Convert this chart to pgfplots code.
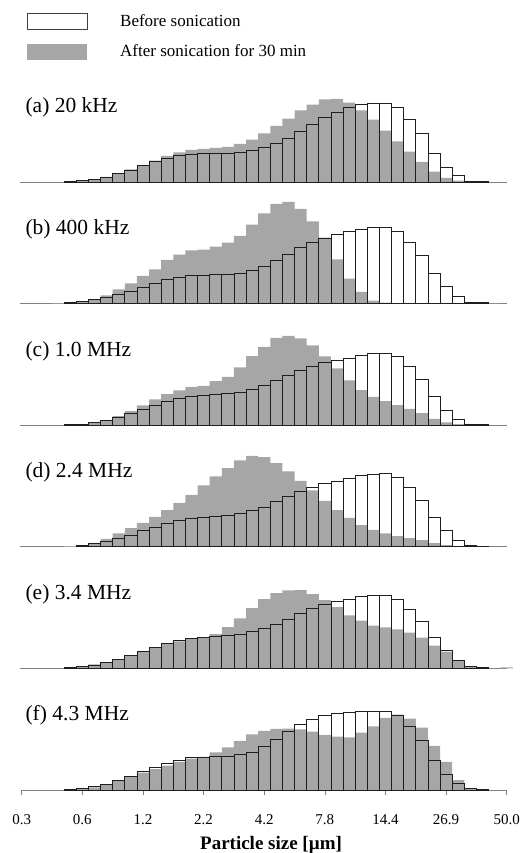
\documentclass[border=0pt]{standalone}
\usepackage{fontspec}
\setmainfont{Liberation Serif}
\usepackage{pgfplots}
\usepackage{pgfplotstable}
\pgfplotsset{compat=1.18}
\definecolor{barGray}{RGB}{166,166,166}
\definecolor{edgeDark}{RGB}{30,30,30}
\definecolor{axisGray}{RGB}{128,128,128}

% bin index k (0 = 0.3 um ... 40 = 50.0 um), before / after sonication
\pgfplotstableread{
k before after
4 0.7 0.7
5 1.3 1.0
6 2.7 2.7
7 5.0 5.0
8 8.3 8.7
9 12.0 12.7
10 16.3 16.7
11 20.7 21.3
12 23.7 26.0
13 27.0 29.7
14 28.0 32.0
15 28.3 33.0
16 28.7 34.0
17 28.7 35.0
18 29.7 38.0
19 31.7 42.3
20 34.7 48.7
21 38.7 56.0
22 44.0 63.3
23 50.3 71.7
24 57.3 77.3
25 64.7 82.7
26 69.7 83.0
27 74.3 79.3
28 77.7 71.7
29 78.7 62.3
30 78.7 51.3
31 74.3 40.7
32 62.7 30.3
33 48.7 20.0
34 29.0 10.3
35 14.7 4.0
36 6.3 1.3
37 1.0 0.7
38 0.3 0.3
}\dataA

\pgfplotstableread{
k before after
3 nan 0.5
4 1.0 1.0
5 2.0 2.3
6 3.7 4.3
7 5.7 8.3
8 8.7 14.3
9 12.0 20.3
10 15.7 27.7
11 20.0 34.3
12 23.7 43.7
13 26.0 49.0
14 28.0 53.3
15 28.3 54.0
16 28.7 57.0
17 28.7 61.0
18 30.3 67.7
19 33.0 79.0
20 37.0 90.3
21 43.0 99.7
22 49.0 101.7
23 55.7 94.7
24 61.0 82.3
25 65.3 66.0
26 68.7 44.3
27 71.7 25.0
28 74.3 11.7
29 75.7 3.0
30 75.7 1.0
31 72.3 0.3
32 61.0 nan
33 47.7 nan
34 29.7 nan
35 16.7 nan
36 7.0 nan
37 1.3 0.3
38 0.7 0.3
39 nan 0.3
}\dataB

\pgfplotstableread{
k before after
4 0.3 0.3
5 1.0 0.7
6 2.7 2.7
7 4.7 4.7
8 8.0 9.0
9 11.7 14.0
10 15.7 19.7
11 20.0 25.7
12 23.7 31.0
13 27.0 34.7
14 29.0 38.3
15 30.0 39.3
16 31.0 44.0
17 31.7 48.3
18 33.0 57.7
19 35.7 69.0
20 39.7 78.3
21 44.3 87.3
22 49.7 89.3
23 55.0 86.7
24 59.0 79.7
25 62.3 68.7
26 65.0 56.7
27 67.0 44.7
28 69.7 35.0
29 71.7 28.3
30 71.7 24.0
31 68.3 20.0
32 58.7 16.3
33 46.0 12.0
34 29.0 6.3
35 15.0 2.7
36 5.7 1.0
37 1.0 0.3
38 0.3 nan
}\dataC

\pgfplotstableread{
k before after
4 nan 0.7
5 1.3 1.7
6 3.0 4.0
7 5.0 8.0
8 8.0 13.3
9 11.7 18.7
10 16.0 24.0
11 19.7 30.0
12 23.0 36.7
13 26.3 44.0
14 28.7 52.0
15 29.7 61.3
16 30.3 70.3
17 31.0 78.7
18 33.3 86.3
19 36.0 91.0
20 39.7 89.7
21 45.0 83.7
22 50.0 75.3
23 55.3 66.0
24 59.3 56.3
25 63.0 46.0
26 65.7 36.7
27 68.0 29.0
28 71.0 21.7
29 72.7 17.0
30 73.3 13.3
31 69.7 10.7
32 59.3 8.7
33 46.7 6.7
34 29.7 3.7
35 16.3 1.7
36 6.7 0.7
37 1.3 1.0
38 0.3 0.7
}\dataD

\pgfplotstableread{
k before after
4 0.7 0.3
5 2.0 1.7
6 3.3 4.0
7 6.0 5.7
8 9.0 8.7
9 12.7 12.3
10 17.0 16.7
11 21.3 21.0
12 25.0 24.3
13 28.0 27.0
14 30.0 29.3
15 31.0 31.0
16 32.0 34.3
17 32.7 41.3
18 34.3 50.0
19 36.7 60.3
20 40.0 69.3
21 44.3 75.3
22 49.3 78.0
23 55.0 78.3
24 60.0 74.3
25 63.7 68.3
26 67.0 61.3
27 69.3 53.0
28 71.7 47.7
29 72.7 42.7
30 72.7 41.0
31 69.0 39.0
32 59.3 35.7
33 47.3 30.7
34 30.7 22.7
35 18.0 16.7
36 7.7 7.7
37 2.0 2.3
38 1.0 0.7
40 nan 1.0
}\dataE

\pgfplotstableread{
k before after
4 0.3 0.7
5 1.3 1.0
6 3.3 2.7
7 5.7 5.3
8 9.7 9.3
9 14.0 13.3
10 18.3 17.3
11 22.7 21.0
12 26.7 24.3
13 30.0 28.0
14 32.7 31.3
15 32.7 33.0
16 33.7 37.7
17 33.7 42.7
18 35.7 49.0
19 38.0 55.7
20 43.7 59.0
21 50.7 61.0
22 58.3 61.3
23 65.3 60.7
24 71.0 58.3
25 74.7 55.0
26 76.3 53.3
27 77.3 52.7
28 78.7 57.3
29 78.7 63.7
30 78.3 72.0
31 74.3 75.3
32 63.3 71.3
33 49.7 62.3
34 30.0 44.0
35 15.3 28.0
36 6.7 10.0
37 1.3 2.0
38 0.3 1.0
}\dataF

\pgfplotsset{
  panel/.style={
    at={(20.5pt,#1)}, anchor=south west,
    x=12.125pt, y=1pt,
    xmin=-0.1, xmax=40.05, ymin=0, ymax=110,
    enlargelimits=false,
    axis x line*=bottom, axis y line=none,
    axis line style={axisGray, line width=0.8pt},
    xtick=\empty, ytick=\empty,
    clip=false,
  },
  after bars/.style={ybar, bar width=1, bar shift=0pt, fill=barGray, draw=none},
  before bars/.style={ybar, bar width=1, bar shift=0pt, fill=none, draw=edgeDark, line width=0.8pt},
}
\newcommand\panellabel[1]{\node[anchor=base west, inner sep=0pt, font=\fontsize{21.5}{24}\selectfont] at (axis cs:0.3,69) {#1};}
\newcommand\panelbars[1]{%
  \addplot[after bars] table[x=k, y=after] {#1};
  \addplot[before bars] table[x=k, y=before] {#1};
}

\begin{document}
\begin{tikzpicture}
\useasboundingbox (0,0) rectangle (519pt,853pt);

% legend
\draw[edgeDark!85, line width=0.8pt, fill=white] (27pt,824pt) rectangle (87pt,840pt);
\fill[barGray] (27pt,793pt) rectangle (87pt,809pt);
\node[anchor=base west, inner sep=0pt, font=\fontsize{17}{20}\selectfont] at (120pt,826.3pt) {Before sonication};
\node[anchor=base west, inner sep=0pt, font=\fontsize{17}{20}\selectfont] at (120pt,796.3pt) {After sonication for 30 min};

\begin{axis}[panel=671pt]
  \panelbars{\dataA}
  \panellabel{(a) 20 kHz}
\end{axis}

\begin{axis}[panel=549.4pt]
  \panelbars{\dataB}
  \panellabel{(b) 400 kHz}
\end{axis}

\begin{axis}[panel=427.8pt]
  \panelbars{\dataC}
  \panellabel{(c) 1.0 MHz}
\end{axis}

\begin{axis}[panel=306.2pt]
  \panelbars{\dataD}
  \panellabel{(d) 2.4 MHz}
\end{axis}

\begin{axis}[panel=184.6pt]
  \panelbars{\dataE}
  \panellabel{(e) 3.4 MHz}
\end{axis}

\begin{axis}[panel=63pt,
  xtick={0,5,...,40},
  xticklabels={0.3,0.6,1.2,2.2,4.2,7.8,14.4,26.9,50.0},
  tick align=outside, major tick length=5pt,
  tick style={axisGray, line width=0.6pt},
  xticklabel style={font=\fontsize{15}{18}\selectfont, anchor=base, inner sep=0pt, yshift=-29pt},
  xlabel={Particle size [µm]},
  xlabel style={at={(axis description cs:0.5146,0)}, anchor=base, inner sep=0pt, yshift=-59pt,
    font=\bfseries\fontsize{19}{22}\selectfont},
]
  \panelbars{\dataF}
  \panellabel{(f) 4.3 MHz}
\end{axis}
\end{tikzpicture}
\end{document}
